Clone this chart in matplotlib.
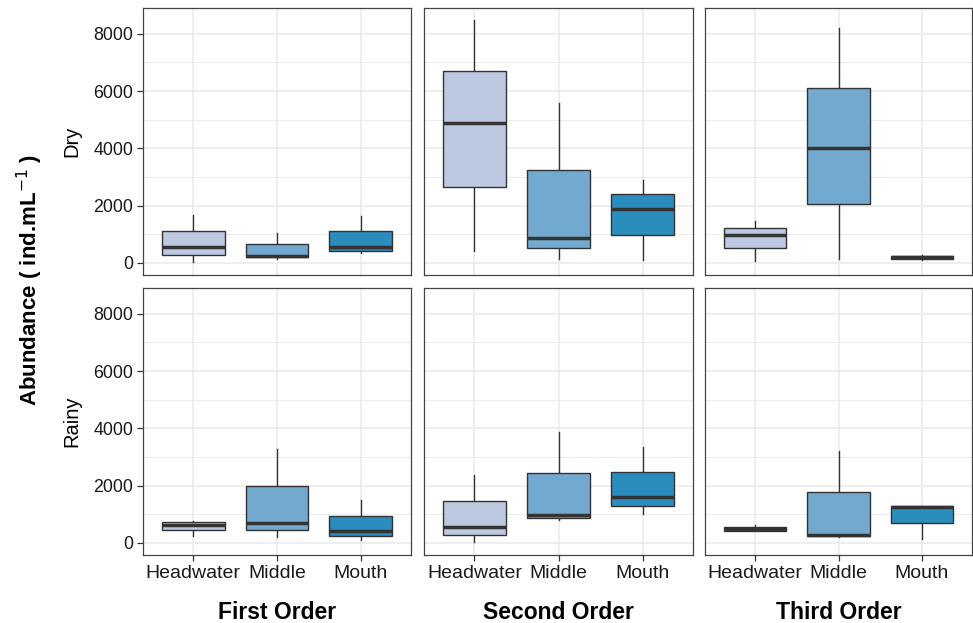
import matplotlib
matplotlib.use("Agg")
import matplotlib.pyplot as plt
from matplotlib.ticker import MultipleLocator

plt.rcParams['font.family'] = ['Liberation Sans', 'DejaVu Sans']

sites = ["Headwater", "Middle", "Mouth"]
orders = ["First Order", "Second Order", "Third Order"]
seasons = ["Dry", "Rainy"]
colors = ["#bdc9e1", "#74a9cf", "#2b8cbe"]

# five-number summaries per site: [whisker low, q1, median, q3, whisker high]
dry_first = [[25, 269, 548, 1118, 1680], [140, 199, 256, 653, 1037], [339, 430, 570, 1118, 1642]]
dry_second = [[419, 2644, 4891, 6707, 8490], [151, 512, 885, 3238, 5579], [93, 990, 1898, 2399, 2889]]
dry_third = [[81, 512, 978, 1223, 1479], [128, 2061, 4006, 6102, 8210], [90, 130, 190, 240, 260]]
rainy_first = [[232, 441, 639, 720, 766], [209, 453, 708, 1985, 3274], [116, 255, 418, 952, 1509]]
rainy_second = [[23, 267, 546, 1463, 2357], [790, 871, 975, 2438, 3866], [999, 1289, 1602, 2473, 3332]]
rainy_third = [[406, 430, 488, 569, 615], [209, 232, 290, 1765, 3193], [139, 685, 1242, 1300, 1300]]

panels = [[dry_first, dry_second, dry_third], [rainy_first, rainy_second, rainy_third]]

fig = plt.figure(figsize=(9.73, 6.23), dpi=100)
W, H = 973, 623
col_px = [(143, 411), (424, 693), (705, 972)]
row_px = [(8, 275), (288, 555)]

for r, season in enumerate(seasons):
    for c, order in enumerate(orders):
        x0, x1 = col_px[c]
        y0, y1 = row_px[r]
        ax = fig.add_axes([x0 / W, 1 - y1 / H, (x1 - x0) / W, (y1 - y0) / H])
        stats = []
        for s, v in zip(sites, panels[r][c]):
            stats.append(dict(whislo=v[0], q1=v[1], med=v[2], q3=v[3], whishi=v[4], label=s))
        bp = ax.bxp(stats, positions=[1, 2, 3], widths=0.75, showcaps=False,
                    showfliers=False, patch_artist=True,
                    boxprops=dict(edgecolor="#333333", linewidth=1.0),
                    whiskerprops=dict(color="#333333", linewidth=1.0),
                    medianprops=dict(color="#333333", linewidth=2.5, solid_capstyle="butt"))
        for patch, col in zip(bp["boxes"], colors):
            patch.set_facecolor(col)
        for w in bp["whiskers"]:
            w.set_zorder(1)
        ax.set_xlim(0.4, 3.6)
        ax.set_ylim(-424, 8904)
        ax.yaxis.set_major_locator(MultipleLocator(2000))
        ax.yaxis.set_minor_locator(MultipleLocator(1000))
        ax.grid(True, which="major", color="#ebebeb", linewidth=1.2)
        ax.grid(True, which="minor", axis="y", color="#ebebeb", linewidth=0.7)
        ax.set_axisbelow(True)
        for sp in ax.spines.values():
            sp.set_color("#444444")
            sp.set_linewidth(0.9)
        ax.tick_params(which="minor", left=False)
        ax.tick_params(which="major", length=4, width=0.9, color="#333333")
        ax.tick_params(axis="y", labelsize=12.8, labelcolor="#1a1a1a", pad=3)
        ax.tick_params(axis="x", labelsize=14, labelcolor="#1a1a1a", pad=3)
        if c > 0:
            ax.tick_params(axis="y", left=False, labelleft=False)
        if r == 0:
            ax.tick_params(axis="x", bottom=False, labelbottom=False)
        else:
            ax.set_xticks([1, 2, 3])
            ax.set_xticklabels(sites)
            ax.set_xlabel(order, fontsize=16.5, fontweight="bold", labelpad=14)
        if c == 0:
            ax.set_ylabel(season, fontsize=14.5, labelpad=9)

fig.text(30 / W, 1 - 280 / H, r"Abundance ( ind.mL$^{-1}$ )", rotation=90,
         fontsize=16, fontweight="bold", ha="center", va="center")

fig.savefig("out.png", dpi=100)
